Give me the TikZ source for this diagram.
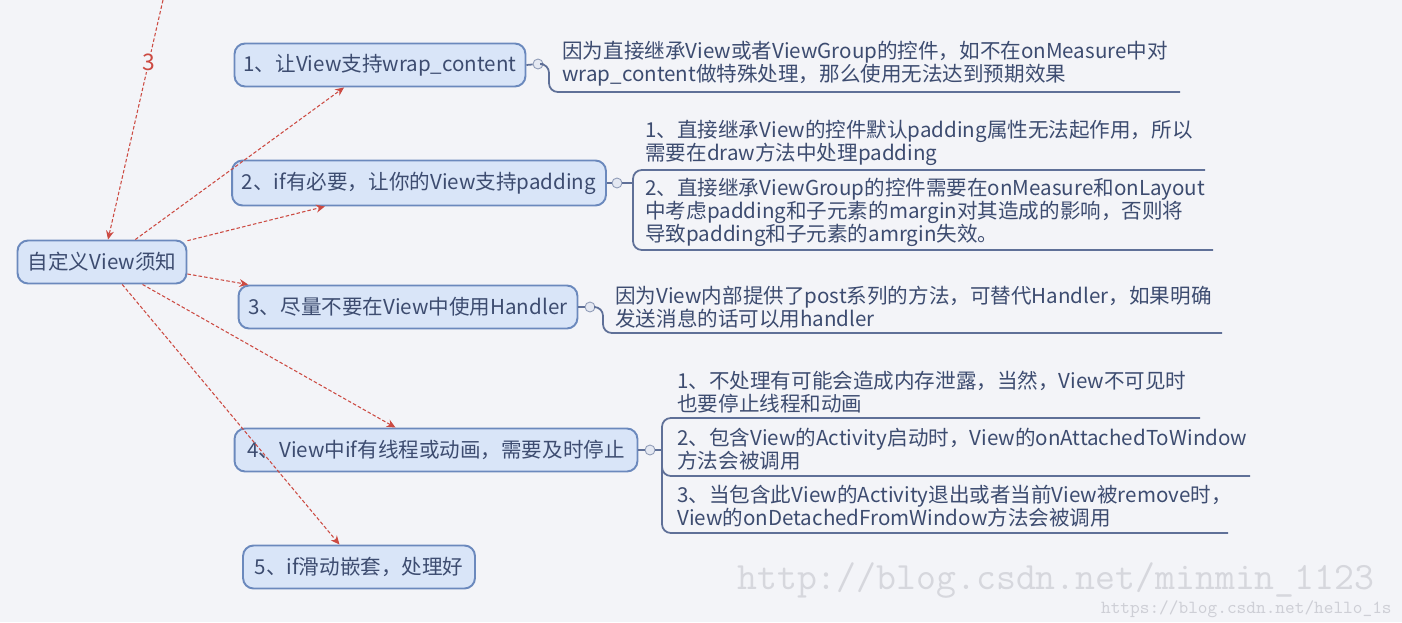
\documentclass[tikz,border=0pt]{standalone}
\usepackage{fontspec}
\setmainfont{Noto Sans CJK SC}
\usetikzlibrary{arrows.meta}

\definecolor{bgc}{HTML}{F3F4F8}
\definecolor{topicfill}{HTML}{D9E5F8}
\definecolor{topicline}{HTML}{6B89BD}
\definecolor{inkc}{HTML}{3D4C70}
\definecolor{branchc}{HTML}{5F7098}
\definecolor{knobc}{HTML}{E4E8F2}
\definecolor{linkc}{HTML}{CC4A42}
\definecolor{wmc}{HTML}{D6D7DD}

\begin{document}
\begin{tikzpicture}[>={Stealth[length=5pt,width=4.5pt]}, x=0.02cm, y=-0.02cm,
	topic/.style={draw=topicline, fill=topicfill, line width=1.1pt, rounded corners=6pt,
		text=inkc, font=\fontsize{11.7}{13}\selectfont, inner sep=0pt, minimum height=0.86cm},
	note/.style={anchor=west, align=left, inner sep=0pt, text=inkc, font=\fontsize{11.7}{13.1}\selectfont},
	knob/.style={circle, draw=branchc!70, fill=knobc, line width=0.5pt, inner sep=0pt, minimum size=0.2cm},
	branch/.style={draw=branchc, line width=1pt, rounded corners=5pt},
	link/.style={->, linkc, dash pattern=on 2pt off 1.2pt, line width=0.6pt},
	wmark/.style={text=wmc, inner sep=0pt, font=\ttfamily}]
	\fill[bgc] (0,0) rectangle (1402,622);
	\useasboundingbox (0,0) rectangle (1402,622);

	% main topic and its branches
	\node[topic, minimum width=3.38cm] (root) at (102,262) {自定义View须知};
	\node[topic, minimum width=5.82cm] (wrap) at (380,65) {1、让View支持wrap\_content};
	\node[topic, minimum width=7.48cm, minimum height=0.9cm] (pad) at (419,183) {2、if有必要，让你的View支持padding};
	\node[topic, minimum width=6.78cm] (hand) at (408,307) {3、尽量不要在View中使用Handler};
	\node[topic, minimum width=8.06cm] (thread) at (436,450) {4、View中if有线程或动画，需要及时停止};
	\node[topic, minimum width=4.64cm] (nest) at (359,567) {5、if滑动嵌套，处理好};

	\coordinate (top) at (163,0);
	\draw[link] (top) -- node[pos=0.26, fill=bgc, text=linkc, inner sep=1pt,
		font=\fontsize{13}{13}\selectfont] (three) {3} (root.75);
	\draw[link] (root.34) -- (wrap.212);
	\draw[link] (root.14) -- (pad.194);
	\draw[link] (root.-8) -- (hand.172);
	\draw[link] (root.-29) -- (thread.151);
	\draw[link] (root.-48) -- (nest.131);

	% notes
	\node[knob] (wrapk) at (538,64) {};
	\draw[branch] (wrap.east) -- (wrapk);
	\draw[branch] (wrapk.east) -- (549,64) -- (549,92) -- (1180,92);
	\node[note] (wrapn) at (562,63.5) {因为直接继承View或者ViewGroup的控件，如不在onMeasure中对\\wrap\_content做特殊处理，那么使用无法达到预期效果};

	\node[knob] (padk) at (617,183) {};
	\draw[branch] (pad.east) -- (padk);
	\draw[branch] (padk.east) -- (633,183);
	\draw[branch] (1205,170) -- (633,170) -- (633,250) -- (1213,250);
	\node[note] (padn1) at (645,143) {1、直接继承View的控件默认padding属性无法起作用，所以\\需要在draw方法中处理padding};
	\node[note] (padn2) at (645,212) {2、直接继承ViewGroup的控件需要在onMeasure和onLayout\\中考虑padding和子元素的margin对其造成的影响，否则将\\导致padding和子元素的amrgin失效。};

	\node[knob] (handk) at (590,307) {};
	\draw[branch] (hand.east) -- (handk);
	\draw[branch] (handk.east) -- (603,307) -- (603,333) -- (1222,333);
	\node[note] (handn) at (615,307.5) {因为View内部提供了post系列的方法，可替代Handler，如果明确\\发送消息的话可以用handler};

	\node[knob] (threadk) at (650,450) {};
	\draw[branch] (thread.east) -- (threadk);
	\draw[branch] (threadk.east) -- (662,450);
	\draw[branch] (1200,418) -- (662,418) -- (662,476) -- (1250,476);
	\draw[branch] (662,466) -- (662,533) -- (1228,533);
	\node[note] (threadn1) at (677,392.5) {1、不处理有可能会造成内存泄露，当然，View不可见时\\也要停止线程和动画};
	\node[note] (threadn2) at (677,449.5) {2、包含View的Activity启动时，View的onAttachedToWindow\\方法会被调用};
	\node[note] (threadn3) at (677,506.5) {3、当包含此View的Activity退出或者当前View被remove时，\\View的onDetachedFromWindow方法会被调用};

	% watermark
	\node[wmark, anchor=west, font=\ttfamily\fontsize{22}{22}\selectfont] (wm1) at (737,581) {http://blog.csdn.net/minmin\_1123};
	\node[wmark, anchor=east, text=wmc!120, font=\ttfamily\fontsize{10.5}{11}\selectfont] (wm2) at (1392,609) {https://blog.csdn.net/hello\_1s};
\end{tikzpicture}
\end{document}
